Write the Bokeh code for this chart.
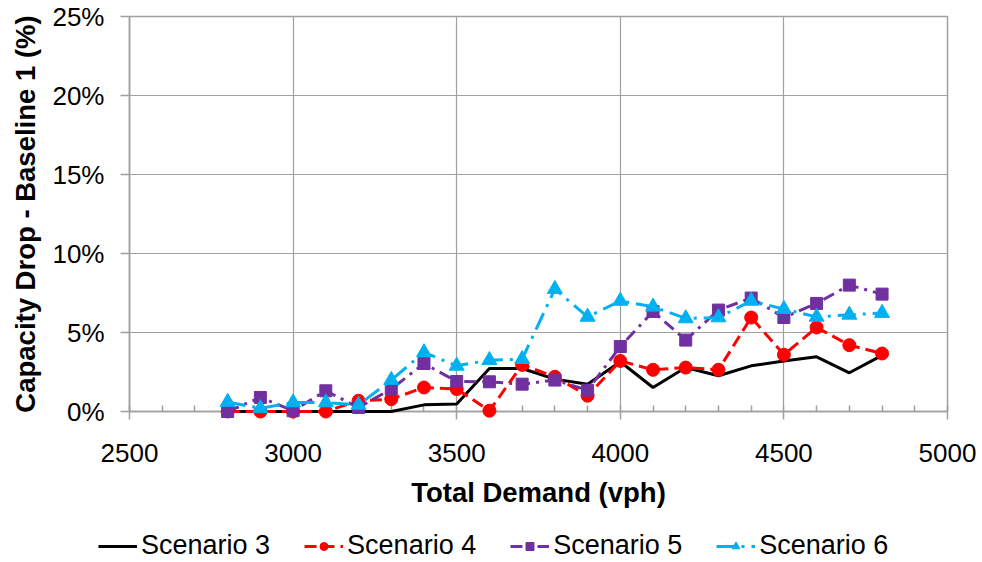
from bokeh.plotting import figure
from bokeh.layouts import column, row
from bokeh.models import (ColumnDataSource, Legend, LegendItem, Range1d,
                          SingleIntervalTicker, PrintfTickFormatter)
from bokeh.embed import file_html
from bokeh.resources import INLINE

# Total demand (vph) and capacity drop relative to Baseline 1 (%)
demand = [2800, 2900, 3000, 3100, 3200, 3300, 3400, 3500, 3600, 3700, 3800,
          3900, 4000, 4100, 4200, 4300, 4400, 4500, 4600, 4700, 4800]
scenario_3 = [0.0, 0.0, 0.0, 0.0, 0.0, 0.0, 0.42, 0.47, 2.72, 2.72, 2.05,
              1.73, 3.15, 1.52, 2.78, 2.26, 2.89, 3.2, 3.46, 2.45, 3.55]
scenario_4 = [0.0, 0.0, 0.0, 0.0, 0.68, 0.78, 1.52, 1.42, 0.05, 2.95, 2.2,
              1.0, 3.2, 2.64, 2.78, 2.64, 5.95, 3.59, 5.32, 4.2, 3.67]
scenario_5 = [0.0, 0.89, 0.05, 1.31, 0.25, 1.42, 3.04, 1.9, 1.88, 1.73, 1.99,
              1.35, 4.11, 6.33, 4.52, 6.42, 7.18, 5.95, 6.84, 8.0, 7.43]
scenario_6 = [0.6, 0.2, 0.57, 0.57, 0.42, 1.99, 3.74, 2.89, 3.25, 3.31, 7.75,
              5.99, 7.0, 6.63, 5.89, 5.95, 7.0, 6.48, 5.99, 6.12, 6.23]
series_names = ["Scenario 3", "Scenario 4", "Scenario 5", "Scenario 6"]

FONT = "Liberation Sans"
GRID = "#a0a0a0"

# line / marker style of each series
STYLES = [
    dict(color="black", dash="solid", marker=None, size=0),
    dict(color="#ff0000", dash="12 6", marker="circle", size=13),
    dict(color="#7030a0", dash="12 6 3 6", marker="square", size=12),
    dict(color="#00b0f0", dash="18 7 3 7", marker="triangle", size=15),
]
columns = ["s3", "s4", "s5", "s6"]

source = ColumnDataSource(data=dict(
    demand=demand, s3=scenario_3, s4=scenario_4, s5=scenario_5, s6=scenario_6))

p = figure(width=982, height=520, output_backend="svg", toolbar_location=None,
           x_range=Range1d(2500, 5000), y_range=Range1d(0, 25),
           min_border_left=129, min_border_right=35,
           min_border_top=16, min_border_bottom=109)
p.background_fill_color = "white"
p.border_fill_color = "white"
p.outline_line_color = GRID
p.outline_line_width = 1.5

# axes
p.xaxis.ticker = SingleIntervalTicker(interval=500, num_minor_ticks=5)
p.yaxis.ticker = SingleIntervalTicker(interval=5)
p.yaxis.formatter = PrintfTickFormatter(format="%d%%")
p.xaxis.axis_label = "Total Demand (vph)"
p.yaxis.axis_label = "Capacity Drop - Baseline 1 (%)"
for ax in (p.xaxis, p.yaxis):
    ax.axis_line_color = GRID
    ax.axis_line_width = 1.5
    ax.major_tick_line_color = GRID
    ax.major_tick_line_width = 1.5
    ax.major_tick_in = 0
    ax.major_label_text_font = FONT
    ax.major_label_text_font_size = "26px"
    ax.major_label_text_color = "black"
    ax.axis_label_text_font = FONT
    ax.axis_label_text_font_size = "27.5px"
    ax.axis_label_text_font_style = "bold"
    ax.axis_label_text_color = "black"
p.xaxis.major_tick_out = 8
p.xaxis.minor_tick_line_color = GRID
p.xaxis.minor_tick_line_width = 1.5
p.xaxis.minor_tick_in = 6
p.xaxis.minor_tick_out = 0
p.xaxis.major_label_standoff = 24
p.xaxis.axis_label_standoff = 12
p.yaxis.major_tick_out = 9
p.yaxis.minor_tick_line_color = None
p.yaxis.major_label_standoff = 16
p.yaxis.axis_label_standoff = 8

p.xgrid.grid_line_color = GRID
p.ygrid.grid_line_color = GRID
p.xgrid.grid_line_width = 1.2
p.ygrid.grid_line_width = 1.2


def draw_series(fig, level):
    """Draw the four scenarios on fig; return the renderers of each."""
    out = []
    for col, st in zip(columns, STYLES):
        rs = [fig.line("demand", col, source=source, color=st["color"],
                       line_width=3, line_dash=st["dash"], level=level)]
        if st["marker"]:
            rs.append(fig.scatter("demand", col, source=source,
                                  marker=st["marker"], size=st["size"],
                                  color=st["color"], level=level))
        out.append(rs)
    return out


# overlay level so markers at 0% are not cut by the frame
draw_series(p, "overlay")

# legend strip underneath the chart (its own ranges keep the series out of view)
leg = figure(width=982, height=42, output_backend="svg", toolbar_location=None,
             x_axis_type=None, y_axis_type=None,
             x_range=Range1d(0, 1), y_range=Range1d(0, 1),
             min_border=0, outline_line_color=None)
leg.grid.visible = False
leg_renderers = draw_series(leg, "glyph")

legend = Legend(items=[LegendItem(label=name, renderers=rs)
                       for name, rs in zip(series_names, leg_renderers)],
                orientation="horizontal", location=(98, 1))
legend.label_text_font = FONT
legend.label_text_font_size = "27px"
legend.label_text_color = "black"
legend.glyph_width = 39
legend.label_standoff = 4
legend.spacing = 34
legend.padding = 0
legend.margin = 0
legend.border_line_alpha = 0
legend.background_fill_alpha = 0
leg.add_layout(legend)

layout = column(p, row(leg), spacing=0)
open("out.html", "w").write(file_html(layout, INLINE))
